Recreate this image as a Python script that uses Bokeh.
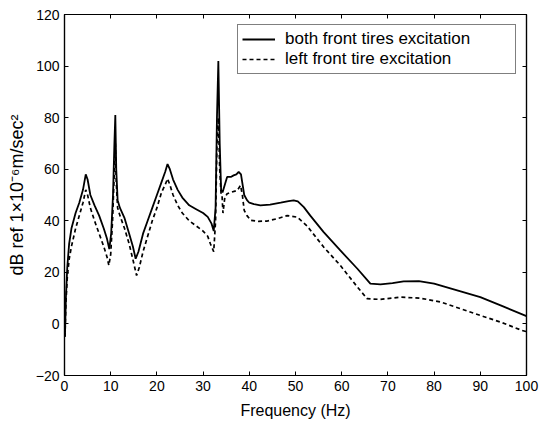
from bokeh.plotting import figure
from bokeh.models import LinearAxis, Range1d, Legend, LegendItem, FixedTicker
from bokeh.embed import file_html
from bokeh.resources import INLINE

both_x = [0.1, 0.3, 0.6, 1.0, 1.5, 2.4, 3.2, 4.0, 4.6, 5.0, 5.6, 6.5, 7.5, 8.5, 9.2, 9.7,
          10.1, 10.5, 10.8, 11.0, 11.2, 11.5, 12.0, 13.0, 14.0, 14.8, 15.4, 16.0, 17.0, 18.0,
          19.0, 20.0, 21.0, 21.8, 22.3, 22.8, 23.5, 24.5, 25.5, 27.0, 28.5, 30.0, 31.0, 31.8,
          32.3, 32.7, 33.0, 33.3, 33.6, 33.9, 34.2, 34.7, 35.2, 36.0, 36.6, 37.2, 37.7, 38.2,
          38.9, 39.5, 40.0, 41.0, 42.4, 44.5, 46.8, 48.5, 49.6, 50.5, 51.8, 53.2, 56.1, 59.7,
          63.4, 66.2, 68.4, 71.0, 73.4, 76.7, 80.0, 85.0, 90.0, 94.4, 100.0]
both_y = [-5, 10, 22, 31, 37, 43, 47, 52, 58, 56, 50, 46, 42, 37, 33, 29,
          35, 50, 70, 81, 60, 48, 45, 41, 35, 30, 25.3, 28, 35, 40,
          45, 50, 55, 59, 62, 60, 56, 52, 49, 46, 44.5, 43, 41.5, 39,
          36, 45, 80, 102, 70, 52, 51, 54, 57, 57, 57.6, 58, 59, 58,
          50, 48, 47, 46.5, 46, 46.3, 47, 47.6, 47.9, 47.5, 45.3, 42, 35.6, 28.5,
          21.4, 15.6, 15.3, 15.8, 16.5, 16.6, 15.6, 13, 10.4, 7.2, 3]

left_x = [0.1, 0.3, 0.6, 1.0, 1.5, 2.4, 3.2, 4.0, 4.6, 5.0, 5.6, 6.5, 7.5, 8.5, 9.2, 9.6,
          10.0, 10.4, 10.8, 11.0, 11.2, 11.5, 12.0, 13.0, 14.0, 14.8, 15.6, 16.2, 17.0, 18.0,
          19.0, 20.0, 21.0, 21.8, 22.3, 22.8, 23.5, 24.5, 25.5, 27.0, 28.5, 30.0, 31.0, 31.6,
          32.3, 32.7, 33.0, 33.3, 33.6, 33.9, 34.1, 34.3, 34.7, 35.2, 36.0, 37.4, 38.1, 38.5,
          38.9, 39.5, 40.3, 42.0, 43.9, 46.0, 48.2, 50.4, 52.5, 56.1, 59.7, 63.4, 65.5, 68.4,
          72.7, 77.0, 81.4, 85.7, 90.0, 94.4, 99.0, 100.0]
left_y = [-5, 8, 18, 25, 30, 37, 42, 47, 52, 50, 45, 40, 35, 30, 26, 22.7,
          27, 40, 60, 70, 55, 45, 42, 37, 31, 25, 18.8, 22, 28, 34,
          40, 45, 51, 54, 56.3, 54, 50, 46, 43, 40, 38, 36, 34, 31,
          28, 40, 70, 80, 60, 50, 49.8, 43, 49, 50.5, 51, 51.8, 53.7, 50,
          44, 42, 40.2, 39.8, 39.9, 40.8, 42, 41.4, 38, 29.8, 22.7, 14.3, 9.8, 9.5,
          10.4, 10, 8.5, 5.9, 3.3, 0.7, -2.5, -3]

x_ticks = [0, 10, 20, 30, 40, 50, 60, 70, 80, 90, 100]
y_ticks = [-20, 0, 20, 40, 60, 80, 100, 120]
labels = ["both front tires excitation", "left front tire excitation"]

FONT = "Liberation Sans"

p = figure(width=543, height=426, output_backend="svg", toolbar_location=None,
           x_range=Range1d(0, 100), y_range=Range1d(-20, 120),
           min_border_left=64, min_border_right=17, min_border_top=14, min_border_bottom=51)
p.background_fill_color = "white"
p.border_fill_color = "white"
p.outline_line_color = "black"
p.outline_line_width = 1.2
p.xgrid.visible = False
p.ygrid.visible = False

r1 = p.line(both_x, both_y, line_color="black", line_width=1.8)
r2 = p.line(left_x, left_y, line_color="black", line_width=1.7, line_dash="4 3")

def style_axis(ax, show_labels=True):
    ax.axis_line_color = "black"
    ax.axis_line_width = 1.2
    ax.major_tick_in = 4
    ax.major_tick_out = 0
    ax.minor_tick_line_color = None
    ax.major_tick_line_color = "black"
    ax.major_label_text_font = FONT
    ax.major_label_text_font_size = "14px"
    ax.major_label_text_color = "black" if show_labels else None
    ax.axis_label_text_font = FONT
    ax.axis_label_text_font_style = "normal"
    ax.axis_label_text_color = "black"

p.xaxis.ticker = FixedTicker(ticks=x_ticks)
p.yaxis.ticker = FixedTicker(ticks=y_ticks)
style_axis(p.xaxis[0])
style_axis(p.yaxis[0])
p.xaxis.axis_label = "Frequency (Hz)"
p.yaxis.axis_label = "dB ref 1\u00d710\u207b\u2076m/sec\u00b2"
p.xaxis.axis_label_text_font_size = "16px"
p.yaxis.axis_label_text_font_size = "18px"
p.xaxis.major_label_standoff = 5
p.yaxis.major_label_standoff = 5
p.xaxis.axis_label_standoff = 8
p.yaxis.axis_label_standoff = 6

top = LinearAxis(ticker=FixedTicker(ticks=x_ticks))
style_axis(top, show_labels=False)
top.major_label_text_font_size = "0px"
top.major_label_standoff = 0
right = LinearAxis(ticker=FixedTicker(ticks=y_ticks))
style_axis(right, show_labels=False)
right.major_label_text_font_size = "0px"
right.major_label_standoff = 0
p.add_layout(top, "above")
p.add_layout(right, "right")

legend = Legend(items=[LegendItem(label=labels[0], renderers=[r1]),
                       LegendItem(label=labels[1], renderers=[r2])],
                location="top_right")
legend.label_text_font = FONT
legend.label_text_font_size = "17px"
legend.label_text_color = "black"
legend.border_line_color = "black"
legend.border_line_width = 1
legend.margin = 10
legend.padding = 4
legend.spacing = 0
legend.glyph_width = 33
legend.label_standoff = 10
legend.label_width = 226
legend.label_height = 20
legend.glyph_height = 20
legend.background_fill_alpha = 1
p.add_layout(legend, "center")

open("out.html", "w").write(file_html(p, INLINE))
